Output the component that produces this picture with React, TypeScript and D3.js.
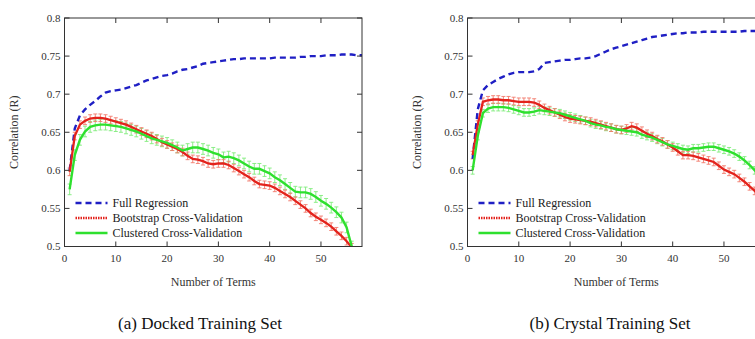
import React from "react";
import * as d3 from "d3";

// number of terms 1..58
const terms = d3.range(1, 59);

// (a) Docked training set
const fullDocked = [
  0.600, 0.655, 0.672, 0.680, 0.686, 0.691, 0.697, 0.702, 0.704, 0.705,
  0.706, 0.708, 0.710, 0.712, 0.715, 0.718, 0.720, 0.722, 0.724, 0.725,
  0.727, 0.730, 0.732, 0.733, 0.735, 0.737, 0.740, 0.741, 0.742, 0.743,
  0.744, 0.745, 0.746, 0.746, 0.747, 0.747, 0.747, 0.747, 0.747, 0.747,
  0.748, 0.748, 0.748, 0.748, 0.748, 0.749, 0.749, 0.750, 0.750, 0.750,
  0.751, 0.751, 0.751, 0.752, 0.752, 0.752, 0.751, 0.751,
];
const bootDocked = [
  0.598, 0.645, 0.660, 0.665, 0.668, 0.669, 0.669, 0.668, 0.666, 0.664,
  0.662, 0.660, 0.657, 0.654, 0.651, 0.648, 0.645, 0.641, 0.637, 0.634,
  0.631, 0.628, 0.624, 0.619, 0.615, 0.614, 0.612, 0.609, 0.608, 0.609,
  0.609, 0.607, 0.603, 0.599, 0.595, 0.591, 0.586, 0.582, 0.581, 0.580,
  0.577, 0.573, 0.569, 0.565, 0.560, 0.555, 0.550, 0.544, 0.539, 0.535,
  0.531, 0.526, 0.520, 0.514, 0.507, 0.499, 0.492, 0.485,
];
const clusDocked = [
  0.575, 0.620, 0.640, 0.651, 0.657, 0.659, 0.660, 0.660, 0.659, 0.658,
  0.657, 0.655, 0.653, 0.651, 0.648, 0.645, 0.642, 0.640, 0.638, 0.636,
  0.633, 0.630, 0.626, 0.628, 0.630, 0.630, 0.628, 0.626, 0.623, 0.621,
  0.617, 0.618, 0.616, 0.613, 0.609, 0.605, 0.602, 0.602, 0.599, 0.596,
  0.591, 0.587, 0.582, 0.577, 0.572, 0.571, 0.571, 0.569, 0.565, 0.560,
  0.556, 0.551, 0.545, 0.538, 0.525, 0.500, 0.480, 0.470,
];

// (b) Crystal training set
const fullCrystal = [
  0.615, 0.680, 0.705, 0.712, 0.716, 0.720, 0.723, 0.726, 0.728, 0.729,
  0.729, 0.729, 0.730, 0.733, 0.741, 0.742, 0.743, 0.744, 0.745, 0.745,
  0.746, 0.747, 0.747, 0.748, 0.750, 0.753, 0.756, 0.759, 0.761, 0.763,
  0.765, 0.767, 0.769, 0.771, 0.773, 0.775, 0.776, 0.777, 0.778, 0.779,
  0.780, 0.780, 0.781, 0.781, 0.781, 0.782, 0.782, 0.782, 0.782, 0.782,
  0.782, 0.782, 0.782, 0.783, 0.783, 0.783, 0.783, 0.783,
];
const bootCrystal = [
  0.620, 0.660, 0.690, 0.692, 0.693, 0.693, 0.692, 0.692, 0.691, 0.690,
  0.690, 0.690, 0.689, 0.686, 0.682, 0.679, 0.676, 0.673, 0.670, 0.668,
  0.667, 0.666, 0.665, 0.664, 0.662, 0.660, 0.658, 0.656, 0.654, 0.653,
  0.655, 0.658, 0.656, 0.652, 0.648, 0.645, 0.641, 0.638, 0.634, 0.630,
  0.625, 0.620, 0.620, 0.619, 0.617, 0.615, 0.613, 0.611, 0.606, 0.601,
  0.598, 0.595, 0.590, 0.585, 0.579, 0.573, 0.566, 0.560,
];
const clusCrystal = [
  0.600, 0.645, 0.675, 0.681, 0.683, 0.683, 0.683, 0.682, 0.680, 0.678,
  0.676, 0.676, 0.677, 0.679, 0.678, 0.677, 0.676, 0.675, 0.673, 0.671,
  0.669, 0.667, 0.665, 0.662, 0.660, 0.659, 0.657, 0.656, 0.654, 0.653,
  0.652, 0.651, 0.650, 0.647, 0.645, 0.643, 0.640, 0.637, 0.634, 0.632,
  0.630, 0.628, 0.627, 0.629, 0.629, 0.630, 0.631, 0.631, 0.629, 0.627,
  0.625, 0.622, 0.618, 0.613, 0.607, 0.600, 0.593, 0.586,
];

// approximate half-width of the error bars [bootstrap, clustered]
const errDocked = [0.005, 0.007];
const errCrystal = [0.005, 0.005];

const xTicks = [0, 10, 20, 30, 40, 50];
const yTicks = [0.5, 0.55, 0.6, 0.65, 0.7, 0.75, 0.8];
const legendLabels = ["Full Regression", "Bootstrap Cross-Validation", "Clustered Cross-Validation"];
const captions = ["(a) Docked Training Set", "(b) Crystal Training Set"];

const FONT = "'Liberation Serif', 'Times New Roman', serif";
const BLUE = "#1f1fc4";
const RED = "#e3231c";
const GREEN = "#2ee02e";

type PanelProps = {
  id: string;
  left: number;
  full: number[];
  boot: number[];
  clus: number[];
  err: number[];
  caption: string;
  captionX: number;
};

const Panel: React.FC<PanelProps> = ({ id, left, full, boot, clus, err, caption, captionX }) => {
  const top = 18;
  const bottom = 246.5;
  const x = d3.scaleLinear().domain([0, 58]).range([left, left + 297.5]);
  const y = d3.scaleLinear().domain([0.5, 0.8]).range([bottom, top]);
  const right = x(58);

  const line = d3
    .line<number>()
    .x((_, i) => x(terms[i]))
    .y((d) => y(d));

  const errBars = (vals: number[], e: number, color: string) =>
    vals.map((v, i) => {
      const cx = x(terms[i]);
      const y1 = y(v - e);
      const y2 = y(v + e);
      return (
        <g key={i} stroke={color} strokeWidth={0.9}>
          <line x1={cx} x2={cx} y1={y1} y2={y2} />
          <line x1={cx - 2} x2={cx + 2} y1={y1} y2={y1} />
          <line x1={cx - 2} x2={cx + 2} y1={y2} y2={y2} />
        </g>
      );
    });

  const legendY = [203, 218, 233];
  const lx0 = left + 11;
  const lx1 = left + 43;

  return (
    <g>
      <defs>
        <clipPath id={id}>
          <rect x={left} y={top} width={right - left} height={bottom - top} />
        </clipPath>
      </defs>

      <g clipPath={`url(#${id})`}>
        {errBars(clus, err[1], "#80ec7c")}
        {errBars(boot, err[0], "#f27a6c")}
        <path d={line(full) ?? ""} fill="none" stroke={BLUE} strokeWidth={2.4} strokeDasharray="6,4" />
        <path d={line(boot) ?? ""} fill="none" stroke={RED} strokeWidth={2.3} />
        <path d={line(clus) ?? ""} fill="none" stroke={GREEN} strokeWidth={2.4} />
      </g>

      {/* frame */}
      <rect x={left} y={top} width={right - left} height={bottom - top} fill="none" stroke="#333" strokeWidth={1} />

      {/* ticks */}
      {xTicks.map((t) => (
        <g key={"x" + t}>
          <line x1={x(t)} x2={x(t)} y1={bottom} y2={bottom - 5} stroke="#333" />
          <line x1={x(t)} x2={x(t)} y1={top} y2={top + 5} stroke="#333" />
          <text x={x(t)} y={262} textAnchor="middle" fontSize={11} fill="#333" fontFamily={FONT}>
            {t}
          </text>
        </g>
      ))}
      {yTicks.map((t) => (
        <g key={"y" + t}>
          <line x1={left} x2={left + 5} y1={y(t)} y2={y(t)} stroke="#333" />
          <line x1={right} x2={right - 5} y1={y(t)} y2={y(t)} stroke="#333" />
          <text x={left - 4} y={y(t) + 3.5} textAnchor="end" fontSize={11} fill="#333" fontFamily={FONT}>
            {d3.format("")(+t.toFixed(2))}
          </text>
        </g>
      ))}

      {/* axis titles */}
      <text
        transform={`translate(${left - 47},${(top + bottom) / 2}) rotate(-90)`}
        textAnchor="middle"
        fontSize={12}
        fill="#333"
        fontFamily={FONT}
      >
        Correlation (R)
      </text>
      <text x={x(29)} y={286} textAnchor="middle" fontSize={12} fill="#333" fontFamily={FONT}>
        Number of Terms
      </text>

      {/* legend */}
      <line x1={lx0} x2={lx1} y1={legendY[0]} y2={legendY[0]} stroke={BLUE} strokeWidth={2.4} strokeDasharray="6,4" />
      <line x1={lx0} x2={lx1} y1={legendY[1]} y2={legendY[1]} stroke={RED} strokeWidth={2.4} strokeDasharray="1.5,1" />
      <line x1={lx0} x2={lx1} y1={legendY[2]} y2={legendY[2]} stroke={GREEN} strokeWidth={2.4} />
      {legendLabels.map((l, i) => (
        <text key={l} x={lx1 + 5} y={legendY[i] + 4} fontSize={12} fill="#222" fontFamily={FONT}>
          {l}
        </text>
      ))}

      <text x={captionX} y={329} textAnchor="middle" fontSize={17} fill="#111" fontFamily={FONT}>
        {caption}
      </text>
    </g>
  );
};

export default function App() {
  return (
    <svg
      width={755}
      height={339}
      style={{ position: "absolute", left: 0, top: 0, background: "#fff" }}
    >
      <Panel
        id="clipA"
        left={64.5}
        full={fullDocked}
        boot={bootDocked}
        clus={clusDocked}
        err={errDocked}
        caption={captions[0]}
        captionX={200}
      />
      <Panel
        id="clipB"
        left={467.5}
        full={fullCrystal}
        boot={bootCrystal}
        clus={clusCrystal}
        err={errCrystal}
        caption={captions[1]}
        captionX={610}
      />
    </svg>
  );
}
